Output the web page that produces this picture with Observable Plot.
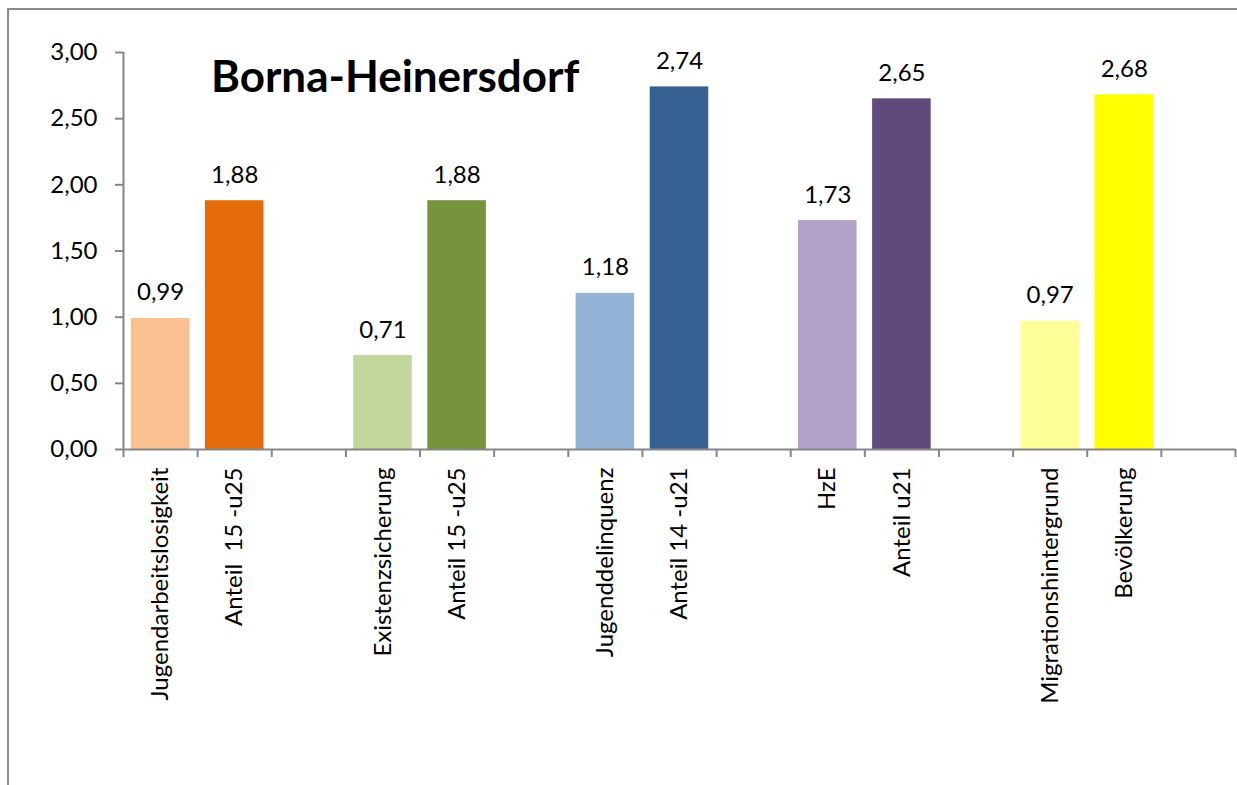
<!DOCTYPE html>
<html>
<head>
<meta charset="utf-8">
<script src="https://cdn.jsdelivr.net/npm/d3@7"></script>
<script src="https://cdn.jsdelivr.net/npm/@observablehq/plot@0.6"></script>
<style>
  html, body { margin: 0; padding: 0; background: #fff; overflow: hidden; }
  #wrap { position: relative; width: 1237px; height: 785px; overflow: hidden; }
  #frame { position: absolute; left: 7px; top: 8px; width: 1400px; height: 1000px; border: 2px solid #8a8a8a; box-sizing: border-box; }
  #title { position: absolute; left: 211px; top: 49px; font-family: Lato, sans-serif; font-weight: bold; font-size: 44px; line-height: 1.2; color: #000; white-space: nowrap; }
  #chart { position: absolute; left: 0; top: 0; }
  svg text { white-space: pre; }
</style>
</head>
<body>
<div id="wrap">
  <div id="frame"></div>
  <div id="chart"></div>
  <div id="title">Borna-Heinersdorf</div>
</div>
<script>
const categories = ["Jugendarbeitslosigkeit", "Anteil  15 -u25", "", "Existenzsicherung", "Anteil 15 -u25", "", "Jugenddelinquenz", "Anteil 14 -u21", "", "HzE", "Anteil u21", "", "Migrationshintergrund", "Bevölkerung", ""];
const values = [0.99, 1.88, null, 0.71, 1.88, null, 1.18, 2.74, null, 1.73, 2.65, null, 0.97, 2.68, null];
const colors = ["#FAC090", "#E46C0A", null, "#C3D69B", "#77933C", null, "#95B3D7", "#366092", null, "#B3A2C7", "#604A7B", null, "#FFFF99", "#FFFF00", null];
const yTicks = [0, 0.5, 1, 1.5, 2, 2.5, 3];

const slots = categories.map((label, i) => ({i, label, value: values[i], color: colors[i]}));
const bars = slots.filter(d => d.value != null);
const labelled = slots.filter(d => d.label !== "");
const fmt = v => v.toFixed(2).replace(".", ",");
const axisGray = "#868686";

const chart = Plot.plot({
  width: 1237,
  height: 785,
  marginLeft: 123,
  marginRight: 2,
  marginTop: 52,
  marginBottom: 336,
  style: {fontFamily: "Lato, sans-serif", fontSize: "24px", color: "#000", background: "transparent"},
  x: {type: "linear", domain: [0, categories.length]},
  y: {domain: [0, 3]},
  color: {type: "identity"},
  marks: [
    Plot.rectY(bars, {x1: d => d.i + 0.105, x2: d => d.i + 0.895, y: "value", fill: "color"}),
    Plot.ruleX([0], {stroke: axisGray, strokeWidth: 2}),
    Plot.ruleY([0], {stroke: axisGray, strokeWidth: 2}),
    Plot.axisY({ticks: yTicks, tickFormat: fmt, tickSize: 8, tickPadding: 18, stroke: axisGray, strokeWidth: 2, fill: "#000", fontSize: 24, label: null}),
    Plot.axisX({ticks: d3.range(0, categories.length + 1), tickFormat: () => "", tickSize: 8, stroke: axisGray, strokeWidth: 2, label: null}),
    Plot.text(bars, {x: d => d.i + 0.5, y: "value", text: d => fmt(d.value), lineAnchor: "bottom", dy: -18, fontSize: 24, fill: "#000"}),
    Plot.text(labelled, {x: d => d.i + 0.5, y: () => 0, text: "label", rotate: -90, textAnchor: "end", dy: 18, fontSize: 24, fill: "#000"})
  ]
});
document.getElementById("chart").appendChild(chart);
</script>
</body>
</html>
